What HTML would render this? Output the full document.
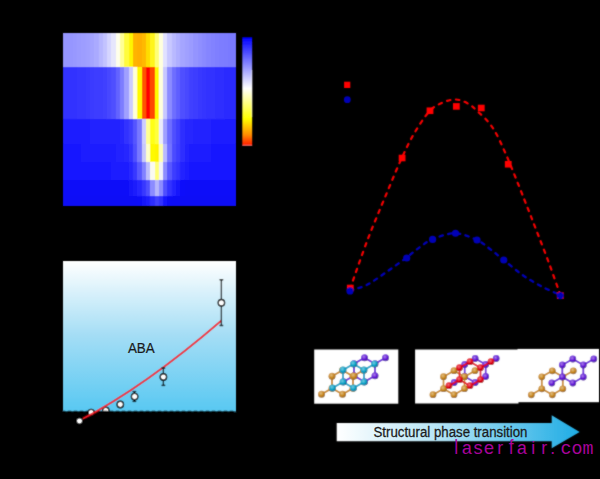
<!DOCTYPE html>
<html><head><meta charset="utf-8"><title>figure</title>
<style>
html,body{margin:0;padding:0;background:#000;width:600px;height:479px;overflow:hidden;}
svg{display:block;font-family:"Liberation Sans", sans-serif;}
</style></head><body>
<svg width="600" height="479" viewBox="0 0 600 479"><defs><filter id="soft" x="-5%" y="-5%" width="110%" height="110%"><feConvolveMatrix order="3" kernelMatrix="1 2 1 2 6 2 1 2 1" divisor="18" edgeMode="none"/></filter><linearGradient id="cb" x1="0" y1="0" x2="0" y2="1"><stop offset="0" stop-color="rgb(0,0,255)"/><stop offset="0.47" stop-color="rgb(255,255,255)"/><stop offset="0.75" stop-color="rgb(255,255,0)"/><stop offset="0.9" stop-color="rgb(255,140,0)"/><stop offset="1" stop-color="rgb(255,20,0)"/></linearGradient><linearGradient id="sky" x1="0" y1="0" x2="0" y2="1"><stop offset="0" stop-color="rgb(255,255,255)"/><stop offset="0.5" stop-color="rgb(163,221,245)"/><stop offset="1" stop-color="rgb(88,200,242)"/></linearGradient><radialGradient id="gt" cx="0.4" cy="0.35" r="0.7"><stop offset="0" stop-color="rgb(119,203,224)"/><stop offset="0.55" stop-color="rgb(8,162,200)"/><stop offset="1" stop-color="rgb(5,113,140)"/></radialGradient><radialGradient id="gp" cx="0.4" cy="0.35" r="0.7"><stop offset="0" stop-color="rgb(169,128,233)"/><stop offset="0.55" stop-color="rgb(100,25,215)"/><stop offset="1" stop-color="rgb(70,17,150)"/></radialGradient><radialGradient id="go" cx="0.4" cy="0.35" r="0.7"><stop offset="0" stop-color="rgb(224,189,131)"/><stop offset="0.55" stop-color="rgb(200,135,30)"/><stop offset="1" stop-color="rgb(140,94,21)"/></radialGradient><radialGradient id="gr" cx="0.4" cy="0.35" r="0.7"><stop offset="0" stop-color="rgb(238,114,125)"/><stop offset="0.55" stop-color="rgb(225,0,20)"/><stop offset="1" stop-color="rgb(157,0,14)"/></radialGradient><linearGradient id="arr" gradientUnits="userSpaceOnUse" x1="336.7" y1="0" x2="580" y2="0"><stop offset="0" stop-color="rgb(255,255,255)"/><stop offset="0.4" stop-color="rgb(185,230,246)"/><stop offset="1" stop-color="rgb(30,172,228)"/></linearGradient><filter id="soft2" x="0" y="0" width="600" height="479" filterUnits="userSpaceOnUse"><feConvolveMatrix order="3" kernelMatrix="1 2 1 2 14 2 1 2 1" divisor="26" edgeMode="none"/></filter></defs><rect width="600" height="479" fill="#000"/><g filter="url(#soft2)"><g shape-rendering="crispEdges"><rect x="62.50" y="32.50" width="6.86" height="35.50" fill="rgb(150,150,255)"/><rect x="68.36" y="32.50" width="5.31" height="35.50" fill="rgb(150,150,255)"/><rect x="72.67" y="32.50" width="5.31" height="35.50" fill="rgb(152,152,255)"/><rect x="76.98" y="32.50" width="5.31" height="35.50" fill="rgb(155,155,255)"/><rect x="81.29" y="32.50" width="5.31" height="35.50" fill="rgb(157,157,255)"/><rect x="85.60" y="32.50" width="5.31" height="35.50" fill="rgb(160,160,255)"/><rect x="89.91" y="32.50" width="5.31" height="35.50" fill="rgb(164,164,255)"/><rect x="94.22" y="32.50" width="5.31" height="35.50" fill="rgb(170,170,255)"/><rect x="98.53" y="32.50" width="5.31" height="35.50" fill="rgb(183,183,255)"/><rect x="102.84" y="32.50" width="5.31" height="35.50" fill="rgb(195,195,255)"/><rect x="107.15" y="32.50" width="5.31" height="35.50" fill="rgb(213,213,255)"/><rect x="111.46" y="32.50" width="5.31" height="35.50" fill="rgb(230,230,252)"/><rect x="115.77" y="32.50" width="5.31" height="35.50" fill="rgb(255,255,235)"/><rect x="120.08" y="32.50" width="5.31" height="35.50" fill="rgb(255,255,150)"/><rect x="124.39" y="32.50" width="5.31" height="35.50" fill="rgb(255,252,60)"/><rect x="128.70" y="32.50" width="5.31" height="35.50" fill="rgb(255,245,0)"/><rect x="133.01" y="32.50" width="5.31" height="35.50" fill="rgb(255,180,0)"/><rect x="137.32" y="32.50" width="5.31" height="35.50" fill="rgb(255,175,0)"/><rect x="141.63" y="32.50" width="5.31" height="35.50" fill="rgb(255,185,0)"/><rect x="145.94" y="32.50" width="5.31" height="35.50" fill="rgb(255,220,0)"/><rect x="150.25" y="32.50" width="5.31" height="35.50" fill="rgb(255,245,30)"/><rect x="154.56" y="32.50" width="5.31" height="35.50" fill="rgb(255,255,120)"/><rect x="158.87" y="32.50" width="5.31" height="35.50" fill="rgb(255,255,220)"/><rect x="163.18" y="32.50" width="5.31" height="35.50" fill="rgb(225,225,255)"/><rect x="167.49" y="32.50" width="5.31" height="35.50" fill="rgb(200,200,255)"/><rect x="171.80" y="32.50" width="5.31" height="35.50" fill="rgb(185,185,255)"/><rect x="176.11" y="32.50" width="5.31" height="35.50" fill="rgb(175,175,255)"/><rect x="180.42" y="32.50" width="5.31" height="35.50" fill="rgb(165,165,255)"/><rect x="184.73" y="32.50" width="5.31" height="35.50" fill="rgb(160,160,255)"/><rect x="189.04" y="32.50" width="5.31" height="35.50" fill="rgb(155,155,255)"/><rect x="193.35" y="32.50" width="5.31" height="35.50" fill="rgb(148,148,255)"/><rect x="197.66" y="32.50" width="5.31" height="35.50" fill="rgb(143,143,255)"/><rect x="201.97" y="32.50" width="5.31" height="35.50" fill="rgb(138,138,255)"/><rect x="206.28" y="32.50" width="5.31" height="35.50" fill="rgb(133,133,255)"/><rect x="210.59" y="32.50" width="5.31" height="35.50" fill="rgb(130,130,255)"/><rect x="214.90" y="32.50" width="5.31" height="35.50" fill="rgb(127,127,255)"/><rect x="219.21" y="32.50" width="5.31" height="35.50" fill="rgb(125,125,255)"/><rect x="223.52" y="32.50" width="5.31" height="35.50" fill="rgb(123,123,255)"/><rect x="227.83" y="32.50" width="5.31" height="35.50" fill="rgb(122,122,255)"/><rect x="232.14" y="32.50" width="3.86" height="35.50" fill="rgb(122,122,255)"/><rect x="62.50" y="67.00" width="6.86" height="53.00" fill="rgb(50,50,255)"/><rect x="68.36" y="67.00" width="5.31" height="53.00" fill="rgb(50,50,255)"/><rect x="72.67" y="67.00" width="5.31" height="53.00" fill="rgb(51,51,255)"/><rect x="76.98" y="67.00" width="5.31" height="53.00" fill="rgb(52,52,255)"/><rect x="81.29" y="67.00" width="5.31" height="53.00" fill="rgb(54,54,255)"/><rect x="85.60" y="67.00" width="5.31" height="53.00" fill="rgb(56,56,255)"/><rect x="89.91" y="67.00" width="5.31" height="53.00" fill="rgb(58,58,255)"/><rect x="94.22" y="67.00" width="5.31" height="53.00" fill="rgb(60,60,255)"/><rect x="98.53" y="67.00" width="5.31" height="53.00" fill="rgb(62,62,255)"/><rect x="102.84" y="67.00" width="5.31" height="53.00" fill="rgb(65,65,255)"/><rect x="107.15" y="67.00" width="5.31" height="53.00" fill="rgb(70,70,255)"/><rect x="111.46" y="67.00" width="5.31" height="53.00" fill="rgb(80,80,255)"/><rect x="115.77" y="67.00" width="5.31" height="53.00" fill="rgb(100,100,255)"/><rect x="120.08" y="67.00" width="5.31" height="53.00" fill="rgb(125,125,255)"/><rect x="124.39" y="67.00" width="5.31" height="53.00" fill="rgb(160,160,255)"/><rect x="128.70" y="67.00" width="5.31" height="53.00" fill="rgb(205,205,255)"/><rect x="133.01" y="67.00" width="5.31" height="53.00" fill="rgb(255,255,215)"/><rect x="137.32" y="67.00" width="5.31" height="53.00" fill="rgb(255,250,0)"/><rect x="141.63" y="67.00" width="5.31" height="53.00" fill="rgb(255,85,0)"/><rect x="145.94" y="67.00" width="5.31" height="53.00" fill="rgb(255,0,0)"/><rect x="150.25" y="67.00" width="5.31" height="53.00" fill="rgb(255,70,0)"/><rect x="154.56" y="67.00" width="5.31" height="53.00" fill="rgb(255,250,0)"/><rect x="158.87" y="67.00" width="5.31" height="53.00" fill="rgb(255,255,220)"/><rect x="163.18" y="67.00" width="5.31" height="53.00" fill="rgb(200,200,255)"/><rect x="167.49" y="67.00" width="5.31" height="53.00" fill="rgb(140,140,255)"/><rect x="171.80" y="67.00" width="5.31" height="53.00" fill="rgb(110,110,255)"/><rect x="176.11" y="67.00" width="5.31" height="53.00" fill="rgb(95,95,255)"/><rect x="180.42" y="67.00" width="5.31" height="53.00" fill="rgb(80,80,255)"/><rect x="184.73" y="67.00" width="5.31" height="53.00" fill="rgb(72,72,255)"/><rect x="189.04" y="67.00" width="5.31" height="53.00" fill="rgb(65,65,255)"/><rect x="193.35" y="67.00" width="5.31" height="53.00" fill="rgb(60,60,255)"/><rect x="197.66" y="67.00" width="5.31" height="53.00" fill="rgb(55,55,255)"/><rect x="201.97" y="67.00" width="5.31" height="53.00" fill="rgb(52,52,255)"/><rect x="206.28" y="67.00" width="5.31" height="53.00" fill="rgb(50,50,255)"/><rect x="210.59" y="67.00" width="5.31" height="53.00" fill="rgb(48,48,255)"/><rect x="214.90" y="67.00" width="5.31" height="53.00" fill="rgb(46,46,255)"/><rect x="219.21" y="67.00" width="5.31" height="53.00" fill="rgb(45,45,255)"/><rect x="223.52" y="67.00" width="5.31" height="53.00" fill="rgb(44,44,255)"/><rect x="227.83" y="67.00" width="5.31" height="53.00" fill="rgb(43,43,255)"/><rect x="232.14" y="67.00" width="3.86" height="53.00" fill="rgb(42,42,255)"/><rect x="62.50" y="119.00" width="6.86" height="26.00" fill="rgb(28,28,255)"/><rect x="68.36" y="119.00" width="5.31" height="26.00" fill="rgb(28,28,255)"/><rect x="72.67" y="119.00" width="5.31" height="26.00" fill="rgb(29,29,255)"/><rect x="76.98" y="119.00" width="5.31" height="26.00" fill="rgb(30,30,255)"/><rect x="81.29" y="119.00" width="5.31" height="26.00" fill="rgb(30,30,255)"/><rect x="85.60" y="119.00" width="5.31" height="26.00" fill="rgb(31,31,255)"/><rect x="89.91" y="119.00" width="5.31" height="26.00" fill="rgb(32,32,255)"/><rect x="94.22" y="119.00" width="5.31" height="26.00" fill="rgb(33,33,255)"/><rect x="98.53" y="119.00" width="5.31" height="26.00" fill="rgb(34,34,255)"/><rect x="102.84" y="119.00" width="5.31" height="26.00" fill="rgb(35,35,255)"/><rect x="107.15" y="119.00" width="5.31" height="26.00" fill="rgb(35,35,255)"/><rect x="111.46" y="119.00" width="5.31" height="26.00" fill="rgb(35,35,255)"/><rect x="115.77" y="119.00" width="5.31" height="26.00" fill="rgb(36,36,255)"/><rect x="120.08" y="119.00" width="5.31" height="26.00" fill="rgb(40,40,255)"/><rect x="124.39" y="119.00" width="5.31" height="26.00" fill="rgb(50,50,255)"/><rect x="128.70" y="119.00" width="5.31" height="26.00" fill="rgb(60,60,255)"/><rect x="133.01" y="119.00" width="5.31" height="26.00" fill="rgb(85,85,255)"/><rect x="137.32" y="119.00" width="5.31" height="26.00" fill="rgb(120,120,255)"/><rect x="141.63" y="119.00" width="5.31" height="26.00" fill="rgb(205,205,255)"/><rect x="145.94" y="119.00" width="5.31" height="26.00" fill="rgb(255,255,145)"/><rect x="150.25" y="119.00" width="5.31" height="26.00" fill="rgb(255,255,20)"/><rect x="154.56" y="119.00" width="5.31" height="26.00" fill="rgb(255,255,60)"/><rect x="158.87" y="119.00" width="5.31" height="26.00" fill="rgb(235,235,250)"/><rect x="163.18" y="119.00" width="5.31" height="26.00" fill="rgb(160,160,255)"/><rect x="167.49" y="119.00" width="5.31" height="26.00" fill="rgb(110,110,255)"/><rect x="171.80" y="119.00" width="5.31" height="26.00" fill="rgb(80,80,255)"/><rect x="176.11" y="119.00" width="5.31" height="26.00" fill="rgb(65,65,255)"/><rect x="180.42" y="119.00" width="5.31" height="26.00" fill="rgb(45,45,255)"/><rect x="184.73" y="119.00" width="5.31" height="26.00" fill="rgb(40,40,255)"/><rect x="189.04" y="119.00" width="5.31" height="26.00" fill="rgb(37,37,255)"/><rect x="193.35" y="119.00" width="5.31" height="26.00" fill="rgb(35,35,255)"/><rect x="197.66" y="119.00" width="5.31" height="26.00" fill="rgb(34,34,255)"/><rect x="201.97" y="119.00" width="5.31" height="26.00" fill="rgb(33,33,255)"/><rect x="206.28" y="119.00" width="5.31" height="26.00" fill="rgb(32,32,255)"/><rect x="210.59" y="119.00" width="5.31" height="26.00" fill="rgb(31,31,255)"/><rect x="214.90" y="119.00" width="5.31" height="26.00" fill="rgb(30,30,255)"/><rect x="219.21" y="119.00" width="5.31" height="26.00" fill="rgb(30,30,255)"/><rect x="223.52" y="119.00" width="5.31" height="26.00" fill="rgb(30,30,255)"/><rect x="227.83" y="119.00" width="5.31" height="26.00" fill="rgb(30,30,255)"/><rect x="232.14" y="119.00" width="3.86" height="26.00" fill="rgb(30,30,255)"/><rect x="62.50" y="144.00" width="6.86" height="19.00" fill="rgb(24,24,255)"/><rect x="68.36" y="144.00" width="5.31" height="19.00" fill="rgb(24,24,255)"/><rect x="72.67" y="144.00" width="5.31" height="19.00" fill="rgb(25,25,255)"/><rect x="76.98" y="144.00" width="5.31" height="19.00" fill="rgb(25,25,255)"/><rect x="81.29" y="144.00" width="5.31" height="19.00" fill="rgb(26,26,255)"/><rect x="85.60" y="144.00" width="5.31" height="19.00" fill="rgb(26,26,255)"/><rect x="89.91" y="144.00" width="5.31" height="19.00" fill="rgb(27,27,255)"/><rect x="94.22" y="144.00" width="5.31" height="19.00" fill="rgb(28,28,255)"/><rect x="98.53" y="144.00" width="5.31" height="19.00" fill="rgb(28,28,255)"/><rect x="102.84" y="144.00" width="5.31" height="19.00" fill="rgb(29,29,255)"/><rect x="107.15" y="144.00" width="5.31" height="19.00" fill="rgb(30,30,255)"/><rect x="111.46" y="144.00" width="5.31" height="19.00" fill="rgb(31,31,255)"/><rect x="115.77" y="144.00" width="5.31" height="19.00" fill="rgb(33,33,255)"/><rect x="120.08" y="144.00" width="5.31" height="19.00" fill="rgb(36,36,255)"/><rect x="124.39" y="144.00" width="5.31" height="19.00" fill="rgb(40,40,255)"/><rect x="128.70" y="144.00" width="5.31" height="19.00" fill="rgb(50,50,255)"/><rect x="133.01" y="144.00" width="5.31" height="19.00" fill="rgb(80,80,255)"/><rect x="137.32" y="144.00" width="5.31" height="19.00" fill="rgb(120,120,255)"/><rect x="141.63" y="144.00" width="5.31" height="19.00" fill="rgb(200,200,250)"/><rect x="145.94" y="144.00" width="5.31" height="19.00" fill="rgb(255,255,200)"/><rect x="150.25" y="144.00" width="5.31" height="19.00" fill="rgb(255,250,0)"/><rect x="154.56" y="144.00" width="5.31" height="19.00" fill="rgb(255,245,0)"/><rect x="158.87" y="144.00" width="5.31" height="19.00" fill="rgb(255,255,175)"/><rect x="163.18" y="144.00" width="5.31" height="19.00" fill="rgb(185,185,255)"/><rect x="167.49" y="144.00" width="5.31" height="19.00" fill="rgb(115,115,255)"/><rect x="171.80" y="144.00" width="5.31" height="19.00" fill="rgb(75,75,255)"/><rect x="176.11" y="144.00" width="5.31" height="19.00" fill="rgb(60,60,255)"/><rect x="180.42" y="144.00" width="5.31" height="19.00" fill="rgb(45,45,255)"/><rect x="184.73" y="144.00" width="5.31" height="19.00" fill="rgb(35,35,255)"/><rect x="189.04" y="144.00" width="5.31" height="19.00" fill="rgb(30,30,255)"/><rect x="193.35" y="144.00" width="5.31" height="19.00" fill="rgb(28,28,255)"/><rect x="197.66" y="144.00" width="5.31" height="19.00" fill="rgb(27,27,255)"/><rect x="201.97" y="144.00" width="5.31" height="19.00" fill="rgb(26,26,255)"/><rect x="206.28" y="144.00" width="5.31" height="19.00" fill="rgb(26,26,255)"/><rect x="210.59" y="144.00" width="5.31" height="19.00" fill="rgb(25,25,255)"/><rect x="214.90" y="144.00" width="5.31" height="19.00" fill="rgb(25,25,255)"/><rect x="219.21" y="144.00" width="5.31" height="19.00" fill="rgb(25,25,255)"/><rect x="223.52" y="144.00" width="5.31" height="19.00" fill="rgb(25,25,255)"/><rect x="227.83" y="144.00" width="5.31" height="19.00" fill="rgb(25,25,255)"/><rect x="232.14" y="144.00" width="3.86" height="19.00" fill="rgb(25,25,255)"/><rect x="62.50" y="162.00" width="6.86" height="18.50" fill="rgb(20,20,255)"/><rect x="68.36" y="162.00" width="5.31" height="18.50" fill="rgb(20,20,255)"/><rect x="72.67" y="162.00" width="5.31" height="18.50" fill="rgb(20,20,255)"/><rect x="76.98" y="162.00" width="5.31" height="18.50" fill="rgb(21,21,255)"/><rect x="81.29" y="162.00" width="5.31" height="18.50" fill="rgb(21,21,255)"/><rect x="85.60" y="162.00" width="5.31" height="18.50" fill="rgb(22,22,255)"/><rect x="89.91" y="162.00" width="5.31" height="18.50" fill="rgb(22,22,255)"/><rect x="94.22" y="162.00" width="5.31" height="18.50" fill="rgb(23,23,255)"/><rect x="98.53" y="162.00" width="5.31" height="18.50" fill="rgb(23,23,255)"/><rect x="102.84" y="162.00" width="5.31" height="18.50" fill="rgb(24,24,255)"/><rect x="107.15" y="162.00" width="5.31" height="18.50" fill="rgb(25,25,255)"/><rect x="111.46" y="162.00" width="5.31" height="18.50" fill="rgb(26,26,255)"/><rect x="115.77" y="162.00" width="5.31" height="18.50" fill="rgb(27,27,255)"/><rect x="120.08" y="162.00" width="5.31" height="18.50" fill="rgb(28,28,255)"/><rect x="124.39" y="162.00" width="5.31" height="18.50" fill="rgb(30,30,255)"/><rect x="128.70" y="162.00" width="5.31" height="18.50" fill="rgb(40,40,255)"/><rect x="133.01" y="162.00" width="5.31" height="18.50" fill="rgb(55,55,255)"/><rect x="137.32" y="162.00" width="5.31" height="18.50" fill="rgb(88,88,255)"/><rect x="141.63" y="162.00" width="5.31" height="18.50" fill="rgb(130,130,255)"/><rect x="145.94" y="162.00" width="5.31" height="18.50" fill="rgb(190,190,252)"/><rect x="150.25" y="162.00" width="5.31" height="18.50" fill="rgb(250,250,240)"/><rect x="154.56" y="162.00" width="5.31" height="18.50" fill="rgb(255,255,120)"/><rect x="158.87" y="162.00" width="5.31" height="18.50" fill="rgb(240,240,250)"/><rect x="163.18" y="162.00" width="5.31" height="18.50" fill="rgb(140,140,255)"/><rect x="167.49" y="162.00" width="5.31" height="18.50" fill="rgb(88,88,255)"/><rect x="171.80" y="162.00" width="5.31" height="18.50" fill="rgb(60,60,255)"/><rect x="176.11" y="162.00" width="5.31" height="18.50" fill="rgb(48,48,255)"/><rect x="180.42" y="162.00" width="5.31" height="18.50" fill="rgb(35,35,255)"/><rect x="184.73" y="162.00" width="5.31" height="18.50" fill="rgb(27,27,255)"/><rect x="189.04" y="162.00" width="5.31" height="18.50" fill="rgb(24,24,255)"/><rect x="193.35" y="162.00" width="5.31" height="18.50" fill="rgb(22,22,255)"/><rect x="197.66" y="162.00" width="5.31" height="18.50" fill="rgb(21,21,255)"/><rect x="201.97" y="162.00" width="5.31" height="18.50" fill="rgb(20,20,255)"/><rect x="206.28" y="162.00" width="5.31" height="18.50" fill="rgb(20,20,255)"/><rect x="210.59" y="162.00" width="5.31" height="18.50" fill="rgb(20,20,255)"/><rect x="214.90" y="162.00" width="5.31" height="18.50" fill="rgb(20,20,255)"/><rect x="219.21" y="162.00" width="5.31" height="18.50" fill="rgb(20,20,255)"/><rect x="223.52" y="162.00" width="5.31" height="18.50" fill="rgb(20,20,255)"/><rect x="227.83" y="162.00" width="5.31" height="18.50" fill="rgb(20,20,255)"/><rect x="232.14" y="162.00" width="3.86" height="18.50" fill="rgb(20,20,255)"/><rect x="62.50" y="179.50" width="6.86" height="17.50" fill="rgb(14,14,248)"/><rect x="68.36" y="179.50" width="5.31" height="17.50" fill="rgb(14,14,248)"/><rect x="72.67" y="179.50" width="5.31" height="17.50" fill="rgb(14,14,248)"/><rect x="76.98" y="179.50" width="5.31" height="17.50" fill="rgb(14,14,248)"/><rect x="81.29" y="179.50" width="5.31" height="17.50" fill="rgb(14,14,248)"/><rect x="85.60" y="179.50" width="5.31" height="17.50" fill="rgb(14,14,248)"/><rect x="89.91" y="179.50" width="5.31" height="17.50" fill="rgb(14,14,248)"/><rect x="94.22" y="179.50" width="5.31" height="17.50" fill="rgb(14,14,248)"/><rect x="98.53" y="179.50" width="5.31" height="17.50" fill="rgb(14,14,248)"/><rect x="102.84" y="179.50" width="5.31" height="17.50" fill="rgb(14,14,248)"/><rect x="107.15" y="179.50" width="5.31" height="17.50" fill="rgb(14,14,248)"/><rect x="111.46" y="179.50" width="5.31" height="17.50" fill="rgb(14,14,248)"/><rect x="115.77" y="179.50" width="5.31" height="17.50" fill="rgb(14,14,248)"/><rect x="120.08" y="179.50" width="5.31" height="17.50" fill="rgb(14,14,248)"/><rect x="124.39" y="179.50" width="5.31" height="17.50" fill="rgb(14,14,248)"/><rect x="128.70" y="179.50" width="5.31" height="17.50" fill="rgb(18,18,250)"/><rect x="133.01" y="179.50" width="5.31" height="17.50" fill="rgb(26,26,252)"/><rect x="137.32" y="179.50" width="5.31" height="17.50" fill="rgb(40,40,255)"/><rect x="141.63" y="179.50" width="5.31" height="17.50" fill="rgb(55,55,255)"/><rect x="145.94" y="179.50" width="5.31" height="17.50" fill="rgb(80,80,255)"/><rect x="150.25" y="179.50" width="5.31" height="17.50" fill="rgb(140,140,255)"/><rect x="154.56" y="179.50" width="5.31" height="17.50" fill="rgb(182,182,252)"/><rect x="158.87" y="179.50" width="5.31" height="17.50" fill="rgb(140,140,255)"/><rect x="163.18" y="179.50" width="5.31" height="17.50" fill="rgb(80,80,255)"/><rect x="167.49" y="179.50" width="5.31" height="17.50" fill="rgb(50,50,255)"/><rect x="171.80" y="179.50" width="5.31" height="17.50" fill="rgb(32,32,255)"/><rect x="176.11" y="179.50" width="5.31" height="17.50" fill="rgb(22,22,252)"/><rect x="180.42" y="179.50" width="5.31" height="17.50" fill="rgb(17,17,250)"/><rect x="184.73" y="179.50" width="5.31" height="17.50" fill="rgb(14,14,248)"/><rect x="189.04" y="179.50" width="5.31" height="17.50" fill="rgb(14,14,248)"/><rect x="193.35" y="179.50" width="5.31" height="17.50" fill="rgb(14,14,248)"/><rect x="197.66" y="179.50" width="5.31" height="17.50" fill="rgb(14,14,248)"/><rect x="201.97" y="179.50" width="5.31" height="17.50" fill="rgb(14,14,248)"/><rect x="206.28" y="179.50" width="5.31" height="17.50" fill="rgb(14,14,248)"/><rect x="210.59" y="179.50" width="5.31" height="17.50" fill="rgb(14,14,248)"/><rect x="214.90" y="179.50" width="5.31" height="17.50" fill="rgb(14,14,248)"/><rect x="219.21" y="179.50" width="5.31" height="17.50" fill="rgb(14,14,248)"/><rect x="223.52" y="179.50" width="5.31" height="17.50" fill="rgb(14,14,248)"/><rect x="227.83" y="179.50" width="5.31" height="17.50" fill="rgb(14,14,248)"/><rect x="232.14" y="179.50" width="3.86" height="17.50" fill="rgb(14,14,248)"/><rect x="62.50" y="196.00" width="6.86" height="9.50" fill="rgb(12,12,246)"/><rect x="68.36" y="196.00" width="5.31" height="9.50" fill="rgb(12,12,246)"/><rect x="72.67" y="196.00" width="5.31" height="9.50" fill="rgb(12,12,246)"/><rect x="76.98" y="196.00" width="5.31" height="9.50" fill="rgb(12,12,246)"/><rect x="81.29" y="196.00" width="5.31" height="9.50" fill="rgb(12,12,246)"/><rect x="85.60" y="196.00" width="5.31" height="9.50" fill="rgb(12,12,246)"/><rect x="89.91" y="196.00" width="5.31" height="9.50" fill="rgb(12,12,246)"/><rect x="94.22" y="196.00" width="5.31" height="9.50" fill="rgb(12,12,246)"/><rect x="98.53" y="196.00" width="5.31" height="9.50" fill="rgb(12,12,246)"/><rect x="102.84" y="196.00" width="5.31" height="9.50" fill="rgb(12,12,246)"/><rect x="107.15" y="196.00" width="5.31" height="9.50" fill="rgb(12,12,246)"/><rect x="111.46" y="196.00" width="5.31" height="9.50" fill="rgb(12,12,246)"/><rect x="115.77" y="196.00" width="5.31" height="9.50" fill="rgb(12,12,246)"/><rect x="120.08" y="196.00" width="5.31" height="9.50" fill="rgb(12,12,246)"/><rect x="124.39" y="196.00" width="5.31" height="9.50" fill="rgb(12,12,246)"/><rect x="128.70" y="196.00" width="5.31" height="9.50" fill="rgb(12,12,246)"/><rect x="133.01" y="196.00" width="5.31" height="9.50" fill="rgb(12,12,246)"/><rect x="137.32" y="196.00" width="5.31" height="9.50" fill="rgb(14,14,248)"/><rect x="141.63" y="196.00" width="5.31" height="9.50" fill="rgb(18,18,250)"/><rect x="145.94" y="196.00" width="5.31" height="9.50" fill="rgb(28,28,255)"/><rect x="150.25" y="196.00" width="5.31" height="9.50" fill="rgb(45,45,255)"/><rect x="154.56" y="196.00" width="5.31" height="9.50" fill="rgb(65,65,255)"/><rect x="158.87" y="196.00" width="5.31" height="9.50" fill="rgb(50,50,255)"/><rect x="163.18" y="196.00" width="5.31" height="9.50" fill="rgb(25,25,255)"/><rect x="167.49" y="196.00" width="5.31" height="9.50" fill="rgb(15,15,248)"/><rect x="171.80" y="196.00" width="5.31" height="9.50" fill="rgb(12,12,246)"/><rect x="176.11" y="196.00" width="5.31" height="9.50" fill="rgb(12,12,246)"/><rect x="180.42" y="196.00" width="5.31" height="9.50" fill="rgb(12,12,246)"/><rect x="184.73" y="196.00" width="5.31" height="9.50" fill="rgb(12,12,246)"/><rect x="189.04" y="196.00" width="5.31" height="9.50" fill="rgb(12,12,246)"/><rect x="193.35" y="196.00" width="5.31" height="9.50" fill="rgb(12,12,246)"/><rect x="197.66" y="196.00" width="5.31" height="9.50" fill="rgb(12,12,246)"/><rect x="201.97" y="196.00" width="5.31" height="9.50" fill="rgb(12,12,246)"/><rect x="206.28" y="196.00" width="5.31" height="9.50" fill="rgb(12,12,246)"/><rect x="210.59" y="196.00" width="5.31" height="9.50" fill="rgb(12,12,246)"/><rect x="214.90" y="196.00" width="5.31" height="9.50" fill="rgb(12,12,246)"/><rect x="219.21" y="196.00" width="5.31" height="9.50" fill="rgb(12,12,246)"/><rect x="223.52" y="196.00" width="5.31" height="9.50" fill="rgb(12,12,246)"/><rect x="227.83" y="196.00" width="5.31" height="9.50" fill="rgb(12,12,246)"/><rect x="232.14" y="196.00" width="3.86" height="9.50" fill="rgb(12,12,246)"/></g><rect x="242.3" y="37.3" width="9.9" height="108.4" fill="url(#cb)"/><rect x="251.4" y="70" width="0.9" height="47" fill="rgba(255,255,255,0.55)"/><rect x="242.3" y="144.8" width="9.9" height="0.9" fill="rgba(255,170,170,0.7)"/><rect x="63.0" y="261.0" width="173" height="150.5" fill="url(#sky)"/><circle cx="105.8" cy="410.4" r="3.2" fill="#fff" stroke="#000" stroke-width="1.4"/><rect x="62" y="412.6" width="174.5" height="6" fill="#000"/><line x1="62" y1="412.3" x2="236" y2="412.3" stroke="#000" stroke-width="3" stroke-dasharray="3 3" stroke-linecap="round"/><circle cx="91.1" cy="412.4" r="3.0" fill="#fff" stroke="#000" stroke-width="1.4"/><path d="M79.3,420.7 Q145.4,386.4 221.5,320.5" fill="none" stroke="rgb(238,22,32)" stroke-width="1.7"/><line x1="134.4" y1="391.6" x2="134.4" y2="401.4" stroke="#000" stroke-width="1.3"/><line x1="132.6" y1="391.6" x2="136.2" y2="391.6" stroke="#000" stroke-width="1.4"/><line x1="132.6" y1="401.4" x2="136.2" y2="401.4" stroke="#000" stroke-width="1.4"/><line x1="163.4" y1="368.0" x2="163.4" y2="385.4" stroke="#000" stroke-width="1.3"/><line x1="161.6" y1="368.0" x2="165.2" y2="368.0" stroke="#000" stroke-width="1.4"/><line x1="161.6" y1="385.4" x2="165.2" y2="385.4" stroke="#000" stroke-width="1.4"/><line x1="221.4" y1="279.7" x2="221.4" y2="325.5" stroke="#000" stroke-width="1.3"/><line x1="219.6" y1="279.7" x2="223.2" y2="279.7" stroke="#000" stroke-width="1.4"/><line x1="219.6" y1="325.5" x2="223.2" y2="325.5" stroke="#000" stroke-width="1.4"/><circle cx="79.5" cy="421.0" r="3.2" fill="#fff" stroke="#000" stroke-width="1.4"/><circle cx="120.3" cy="404.5" r="3.2" fill="#fff" stroke="#000" stroke-width="1.4"/><circle cx="134.6" cy="396.6" r="3.2" fill="#fff" stroke="#000" stroke-width="1.4"/><circle cx="163.4" cy="377.0" r="3.2" fill="#fff" stroke="#000" stroke-width="1.4"/><circle cx="221.4" cy="302.7" r="3.2" fill="#fff" stroke="#000" stroke-width="1.4"/><path d="M350.00,289.00 C352.92,280.83 361.33,256.08 367.50,240.00 C373.67,223.92 381.25,206.25 387.00,192.50 C392.75,178.75 397.33,167.58 402.00,157.50 C406.67,147.42 410.33,139.79 415.00,132.00 C419.67,124.21 425.33,115.67 430.00,110.75 C434.67,105.83 438.75,104.38 443.00,102.50 C447.25,100.62 451.50,99.42 455.50,99.50 C459.50,99.58 463.33,101.04 467.00,103.00 C470.67,104.96 473.25,107.17 477.50,111.25 C481.75,115.33 487.71,120.21 492.50,127.50 C497.29,134.79 500.92,142.92 506.25,155.00 C511.58,167.08 519.50,187.50 524.50,200.00 C529.50,212.50 532.21,219.58 536.25,230.00 C540.29,240.42 544.79,251.83 548.75,262.50 C552.71,273.17 558.12,288.75 560.00,294.00" fill="none" stroke="rgb(245,0,0)" stroke-width="2.2" stroke-linecap="round" stroke-dasharray="3.4 5.6"/><path d="M350.00,290.75 C352.92,289.71 361.25,287.75 367.50,284.50 C373.75,281.25 381.04,275.71 387.50,271.25 C393.96,266.79 400.83,261.79 406.25,257.75 C411.67,253.71 415.62,250.08 420.00,247.00 C424.38,243.92 426.67,241.54 432.50,239.25 C438.33,236.96 447.58,233.12 455.00,233.25 C462.42,233.38 471.17,237.38 477.00,240.00 C482.83,242.62 485.54,245.67 490.00,249.00 C494.46,252.33 498.33,255.67 503.75,260.00 C509.17,264.33 516.25,270.62 522.50,275.00 C528.75,279.38 535.00,282.92 541.25,286.25 C547.50,289.58 556.88,293.54 560.00,295.00" fill="none" stroke="rgb(6,6,180)" stroke-width="2.3" stroke-linecap="round" stroke-dasharray="3.4 5.4"/><rect x="346.90" y="284.70" width="6.8" height="6.6" fill="rgb(255,0,0)"/><rect x="398.70" y="154.70" width="6.8" height="6.6" fill="rgb(255,0,0)"/><rect x="426.60" y="107.45" width="6.8" height="6.6" fill="rgb(255,0,0)"/><rect x="452.95" y="103.10" width="6.8" height="6.6" fill="rgb(255,0,0)"/><rect x="477.85" y="104.70" width="6.8" height="6.6" fill="rgb(255,0,0)"/><rect x="504.85" y="160.95" width="6.8" height="6.6" fill="rgb(255,0,0)"/><rect x="556.90" y="292.30" width="6.8" height="6.6" fill="rgb(255,0,0)"/><circle cx="350.00" cy="290.90" r="3.6" fill="rgb(6,6,182)"/><circle cx="406.70" cy="258.00" r="3.6" fill="rgb(6,6,182)"/><circle cx="432.60" cy="239.40" r="3.6" fill="rgb(6,6,182)"/><circle cx="455.50" cy="233.25" r="3.6" fill="rgb(6,6,182)"/><circle cx="477.00" cy="240.00" r="3.6" fill="rgb(6,6,182)"/><circle cx="503.75" cy="260.00" r="3.6" fill="rgb(6,6,182)"/><circle cx="560.30" cy="295.60" r="3.6" fill="rgb(6,6,182)"/><rect x="344.1" y="81.7" width="6.2" height="6.3" fill="rgb(255,0,0)"/><circle cx="347.3" cy="99.7" r="3.4" fill="rgb(6,6,182)"/><rect x="314.2" y="349.5" width="84.1" height="54.2" fill="#fff"/><rect x="415.1" y="349.5" width="103.4" height="54" fill="#fff"/><rect x="517.5" y="348.9" width="81.5" height="53.3" fill="#fff"/><line x1="364.5" y1="357.8" x2="375.0" y2="363.8" stroke="rgb(100,25,215)" stroke-width="1.9"/><line x1="375.0" y1="363.8" x2="375.0" y2="375.8" stroke="rgb(100,25,215)" stroke-width="1.9"/><line x1="375.0" y1="375.8" x2="364.5" y2="381.8" stroke="rgb(100,25,215)" stroke-width="1.9"/><line x1="364.5" y1="381.8" x2="354.0" y2="375.8" stroke="rgb(100,25,215)" stroke-width="1.9"/><line x1="354.0" y1="375.8" x2="354.0" y2="363.8" stroke="rgb(100,25,215)" stroke-width="1.9"/><line x1="354.0" y1="363.8" x2="364.5" y2="357.8" stroke="rgb(100,25,215)" stroke-width="1.9"/><line x1="375.0" y1="363.8" x2="385.5" y2="357.8" stroke="rgb(100,25,215)" stroke-width="1.9"/><line x1="354.0" y1="375.8" x2="343.5" y2="381.8" stroke="rgb(100,25,215)" stroke-width="1.9"/><circle cx="364.5" cy="357.8" r="3.5" fill="url(#gp)"/><circle cx="375.0" cy="363.8" r="3.5" fill="url(#gp)"/><circle cx="375.0" cy="375.8" r="3.5" fill="url(#gp)"/><circle cx="364.5" cy="381.8" r="3.5" fill="url(#gp)"/><circle cx="354.0" cy="375.8" r="3.5" fill="url(#gp)"/><circle cx="354.0" cy="363.8" r="3.5" fill="url(#gp)"/><circle cx="385.5" cy="357.8" r="3.5" fill="url(#gp)"/><circle cx="343.5" cy="381.8" r="3.5" fill="url(#gp)"/><line x1="342.5" y1="370.2" x2="353.0" y2="376.2" stroke="rgb(200,135,30)" stroke-width="1.9"/><line x1="353.0" y1="376.2" x2="353.0" y2="388.2" stroke="rgb(200,135,30)" stroke-width="1.9"/><line x1="353.0" y1="388.2" x2="342.5" y2="394.2" stroke="rgb(200,135,30)" stroke-width="1.9"/><line x1="342.5" y1="394.2" x2="332.0" y2="388.2" stroke="rgb(200,135,30)" stroke-width="1.9"/><line x1="332.0" y1="388.2" x2="332.0" y2="376.2" stroke="rgb(200,135,30)" stroke-width="1.9"/><line x1="332.0" y1="376.2" x2="342.5" y2="370.2" stroke="rgb(200,135,30)" stroke-width="1.9"/><line x1="353.0" y1="376.2" x2="363.5" y2="370.2" stroke="rgb(200,135,30)" stroke-width="1.9"/><line x1="332.0" y1="388.2" x2="321.5" y2="394.2" stroke="rgb(200,135,30)" stroke-width="1.9"/><circle cx="342.5" cy="370.2" r="3.5" fill="url(#go)"/><circle cx="353.0" cy="376.2" r="3.5" fill="url(#go)"/><circle cx="353.0" cy="388.2" r="3.5" fill="url(#go)"/><circle cx="342.5" cy="394.2" r="3.5" fill="url(#go)"/><circle cx="332.0" cy="388.2" r="3.5" fill="url(#go)"/><circle cx="332.0" cy="376.2" r="3.5" fill="url(#go)"/><circle cx="363.5" cy="370.2" r="3.5" fill="url(#go)"/><circle cx="321.5" cy="394.2" r="3.5" fill="url(#go)"/><line x1="353.5" y1="364.0" x2="364.0" y2="370.0" stroke="rgb(8,162,200)" stroke-width="1.9"/><line x1="364.0" y1="370.0" x2="364.0" y2="382.0" stroke="rgb(8,162,200)" stroke-width="1.9"/><line x1="364.0" y1="382.0" x2="353.5" y2="388.0" stroke="rgb(8,162,200)" stroke-width="1.9"/><line x1="353.5" y1="388.0" x2="343.0" y2="382.0" stroke="rgb(8,162,200)" stroke-width="1.9"/><line x1="343.0" y1="382.0" x2="343.0" y2="370.0" stroke="rgb(8,162,200)" stroke-width="1.9"/><line x1="343.0" y1="370.0" x2="353.5" y2="364.0" stroke="rgb(8,162,200)" stroke-width="1.9"/><line x1="364.0" y1="370.0" x2="374.5" y2="364.0" stroke="rgb(8,162,200)" stroke-width="1.9"/><line x1="343.0" y1="382.0" x2="332.5" y2="388.0" stroke="rgb(8,162,200)" stroke-width="1.9"/><circle cx="353.5" cy="364.0" r="3.5" fill="url(#gt)"/><circle cx="364.0" cy="370.0" r="3.5" fill="url(#gt)"/><circle cx="364.0" cy="382.0" r="3.5" fill="url(#gt)"/><circle cx="353.5" cy="388.0" r="3.5" fill="url(#gt)"/><circle cx="343.0" cy="382.0" r="3.5" fill="url(#gt)"/><circle cx="343.0" cy="370.0" r="3.5" fill="url(#gt)"/><circle cx="374.5" cy="364.0" r="3.5" fill="url(#gt)"/><circle cx="332.5" cy="388.0" r="3.5" fill="url(#gt)"/><circle cx="353.8" cy="376.0" r="3.6" fill="url(#go)"/><line x1="475.2" y1="358.5" x2="485.7" y2="364.5" stroke="rgb(100,25,215)" stroke-width="1.7"/><line x1="485.7" y1="364.5" x2="485.7" y2="376.5" stroke="rgb(100,25,215)" stroke-width="1.7"/><line x1="485.7" y1="376.5" x2="475.2" y2="382.5" stroke="rgb(100,25,215)" stroke-width="1.7"/><line x1="475.2" y1="382.5" x2="464.7" y2="376.5" stroke="rgb(100,25,215)" stroke-width="1.7"/><line x1="464.7" y1="376.5" x2="464.7" y2="364.5" stroke="rgb(100,25,215)" stroke-width="1.7"/><line x1="464.7" y1="364.5" x2="475.2" y2="358.5" stroke="rgb(100,25,215)" stroke-width="1.7"/><line x1="485.7" y1="364.5" x2="496.2" y2="358.5" stroke="rgb(100,25,215)" stroke-width="1.7"/><line x1="464.7" y1="376.5" x2="454.2" y2="382.5" stroke="rgb(100,25,215)" stroke-width="1.7"/><circle cx="475.2" cy="358.5" r="3.4" fill="url(#gp)"/><circle cx="485.7" cy="364.5" r="3.4" fill="url(#gp)"/><circle cx="485.7" cy="376.5" r="3.4" fill="url(#gp)"/><circle cx="475.2" cy="382.5" r="3.4" fill="url(#gp)"/><circle cx="464.7" cy="376.5" r="3.4" fill="url(#gp)"/><circle cx="464.7" cy="364.5" r="3.4" fill="url(#gp)"/><circle cx="496.2" cy="358.5" r="3.4" fill="url(#gp)"/><circle cx="454.2" cy="382.5" r="3.4" fill="url(#gp)"/><line x1="454.0" y1="370.7" x2="464.5" y2="376.7" stroke="rgb(200,135,30)" stroke-width="1.7"/><line x1="464.5" y1="376.7" x2="464.5" y2="388.7" stroke="rgb(200,135,30)" stroke-width="1.7"/><line x1="464.5" y1="388.7" x2="454.0" y2="394.7" stroke="rgb(200,135,30)" stroke-width="1.7"/><line x1="454.0" y1="394.7" x2="443.5" y2="388.7" stroke="rgb(200,135,30)" stroke-width="1.7"/><line x1="443.5" y1="388.7" x2="443.5" y2="376.7" stroke="rgb(200,135,30)" stroke-width="1.7"/><line x1="443.5" y1="376.7" x2="454.0" y2="370.7" stroke="rgb(200,135,30)" stroke-width="1.7"/><line x1="464.5" y1="376.7" x2="475.0" y2="370.7" stroke="rgb(200,135,30)" stroke-width="1.7"/><line x1="443.5" y1="388.7" x2="433.0" y2="394.7" stroke="rgb(200,135,30)" stroke-width="1.7"/><circle cx="454.0" cy="370.7" r="3.4" fill="url(#go)"/><circle cx="464.5" cy="376.7" r="3.4" fill="url(#go)"/><circle cx="464.5" cy="388.7" r="3.4" fill="url(#go)"/><circle cx="454.0" cy="394.7" r="3.4" fill="url(#go)"/><circle cx="443.5" cy="388.7" r="3.4" fill="url(#go)"/><circle cx="443.5" cy="376.7" r="3.4" fill="url(#go)"/><circle cx="475.0" cy="370.7" r="3.4" fill="url(#go)"/><circle cx="433.0" cy="394.7" r="3.4" fill="url(#go)"/><line x1="470.0" y1="361.7" x2="480.5" y2="367.7" stroke="rgb(225,0,20)" stroke-width="1.7"/><line x1="480.5" y1="367.7" x2="480.5" y2="379.7" stroke="rgb(225,0,20)" stroke-width="1.7"/><line x1="480.5" y1="379.7" x2="470.0" y2="385.7" stroke="rgb(225,0,20)" stroke-width="1.7"/><line x1="470.0" y1="385.7" x2="459.5" y2="379.7" stroke="rgb(225,0,20)" stroke-width="1.7"/><line x1="459.5" y1="379.7" x2="459.5" y2="367.7" stroke="rgb(225,0,20)" stroke-width="1.7"/><line x1="459.5" y1="367.7" x2="470.0" y2="361.7" stroke="rgb(225,0,20)" stroke-width="1.7"/><line x1="480.5" y1="367.7" x2="491.0" y2="361.7" stroke="rgb(225,0,20)" stroke-width="1.7"/><line x1="459.5" y1="379.7" x2="449.0" y2="385.7" stroke="rgb(225,0,20)" stroke-width="1.7"/><circle cx="470.0" cy="361.7" r="3.4" fill="url(#gr)"/><circle cx="480.5" cy="367.7" r="3.4" fill="url(#gr)"/><circle cx="480.5" cy="379.7" r="3.4" fill="url(#gr)"/><circle cx="470.0" cy="385.7" r="3.4" fill="url(#gr)"/><circle cx="459.5" cy="379.7" r="3.4" fill="url(#gr)"/><circle cx="459.5" cy="367.7" r="3.4" fill="url(#gr)"/><circle cx="491.0" cy="361.7" r="3.4" fill="url(#gr)"/><circle cx="449.0" cy="385.7" r="3.4" fill="url(#gr)"/><line x1="552.3" y1="370.8" x2="562.8" y2="376.8" stroke="rgb(200,135,30)" stroke-width="1.8"/><line x1="562.8" y1="376.8" x2="562.8" y2="388.8" stroke="rgb(200,135,30)" stroke-width="1.8"/><line x1="562.8" y1="388.8" x2="552.3" y2="394.8" stroke="rgb(200,135,30)" stroke-width="1.8"/><line x1="552.3" y1="394.8" x2="541.8" y2="388.8" stroke="rgb(200,135,30)" stroke-width="1.8"/><line x1="541.8" y1="388.8" x2="541.8" y2="376.8" stroke="rgb(200,135,30)" stroke-width="1.8"/><line x1="541.8" y1="376.8" x2="552.3" y2="370.8" stroke="rgb(200,135,30)" stroke-width="1.8"/><line x1="562.8" y1="376.8" x2="573.3" y2="370.8" stroke="rgb(200,135,30)" stroke-width="1.8"/><line x1="541.8" y1="388.8" x2="531.3" y2="394.8" stroke="rgb(200,135,30)" stroke-width="1.8"/><circle cx="552.3" cy="370.8" r="3.4" fill="url(#go)"/><circle cx="562.8" cy="376.8" r="3.4" fill="url(#go)"/><circle cx="562.8" cy="388.8" r="3.4" fill="url(#go)"/><circle cx="552.3" cy="394.8" r="3.4" fill="url(#go)"/><circle cx="541.8" cy="388.8" r="3.4" fill="url(#go)"/><circle cx="541.8" cy="376.8" r="3.4" fill="url(#go)"/><circle cx="573.3" cy="370.8" r="3.4" fill="url(#go)"/><circle cx="531.3" cy="394.8" r="3.4" fill="url(#go)"/><line x1="572.8" y1="359.0" x2="583.3" y2="365.0" stroke="rgb(100,25,215)" stroke-width="1.8"/><line x1="583.3" y1="365.0" x2="583.3" y2="377.0" stroke="rgb(100,25,215)" stroke-width="1.8"/><line x1="583.3" y1="377.0" x2="572.8" y2="383.0" stroke="rgb(100,25,215)" stroke-width="1.8"/><line x1="572.8" y1="383.0" x2="562.3" y2="377.0" stroke="rgb(100,25,215)" stroke-width="1.8"/><line x1="562.3" y1="377.0" x2="562.3" y2="365.0" stroke="rgb(100,25,215)" stroke-width="1.8"/><line x1="562.3" y1="365.0" x2="572.8" y2="359.0" stroke="rgb(100,25,215)" stroke-width="1.8"/><line x1="583.3" y1="365.0" x2="593.8" y2="359.0" stroke="rgb(100,25,215)" stroke-width="1.8"/><line x1="562.3" y1="377.0" x2="551.8" y2="383.0" stroke="rgb(100,25,215)" stroke-width="1.8"/><circle cx="572.8" cy="359.0" r="3.4" fill="url(#gp)"/><circle cx="583.3" cy="365.0" r="3.4" fill="url(#gp)"/><circle cx="583.3" cy="377.0" r="3.4" fill="url(#gp)"/><circle cx="572.8" cy="383.0" r="3.4" fill="url(#gp)"/><circle cx="562.3" cy="377.0" r="3.4" fill="url(#gp)"/><circle cx="562.3" cy="365.0" r="3.4" fill="url(#gp)"/><circle cx="593.8" cy="359.0" r="3.4" fill="url(#gp)"/><circle cx="551.8" cy="383.0" r="3.4" fill="url(#gp)"/><path d="M336.7,423 L551.7,423 L551.7,415.3 L579.7,432 L551.7,448.3 L551.7,441.2 L336.7,441.2 Z" fill="url(#arr)"/></g><text transform="translate(127.9,352.8) scale(0.918,1)" x="0" y="0" font-family="Liberation Sans, sans-serif" font-size="14.6" fill="#1a1a1a" stroke="#1a1a1a" stroke-width="0.2">ABA</text><text transform="translate(373.5,436.9) scale(0.958,1)" x="0" y="0" font-family="Liberation Sans, sans-serif" font-size="13.85" fill="#1a1a1a" stroke="#1a1a1a" stroke-width="0.25">Structural phase transition</text><text transform="translate(456.10,453.8) scale(0.92,1.10)" x="0" y="0" text-anchor="middle" font-family="Liberation Sans, sans-serif" font-size="19.2" fill="rgb(168,4,155)">l</text><text x="467.10" y="453.8" text-anchor="middle" font-family="Liberation Mono, monospace" font-size="18.3" fill="rgb(168,4,155)">a</text><text x="478.10" y="453.8" text-anchor="middle" font-family="Liberation Mono, monospace" font-size="18.3" fill="rgb(168,4,155)">s</text><text x="489.10" y="453.8" text-anchor="middle" font-family="Liberation Mono, monospace" font-size="18.3" fill="rgb(168,4,155)">e</text><text transform="translate(500.10,453.8) scale(0.92,1.00)" x="0" y="0" text-anchor="middle" font-family="Liberation Sans, sans-serif" font-size="19.2" fill="rgb(168,4,155)">r</text><text transform="translate(511.10,453.8) scale(0.92,1.10)" x="0" y="0" text-anchor="middle" font-family="Liberation Sans, sans-serif" font-size="19.2" fill="rgb(168,4,155)">f</text><text x="522.10" y="453.8" text-anchor="middle" font-family="Liberation Mono, monospace" font-size="18.3" fill="rgb(168,4,155)">a</text><text transform="translate(533.10,453.8) scale(0.92,1.00)" x="0" y="0" text-anchor="middle" font-family="Liberation Sans, sans-serif" font-size="19.2" fill="rgb(168,4,155)">i</text><text transform="translate(544.10,453.8) scale(0.92,1.00)" x="0" y="0" text-anchor="middle" font-family="Liberation Sans, sans-serif" font-size="19.2" fill="rgb(168,4,155)">r</text><text transform="translate(552.60,453.8) scale(0.92,1.00)" x="0" y="0" text-anchor="middle" font-family="Liberation Sans, sans-serif" font-size="19.2" fill="rgb(168,4,155)">.</text><text x="566.10" y="453.8" text-anchor="middle" font-family="Liberation Mono, monospace" font-size="18.3" fill="rgb(168,4,155)">c</text><text x="577.10" y="453.8" text-anchor="middle" font-family="Liberation Mono, monospace" font-size="18.3" fill="rgb(168,4,155)">o</text><text x="588.10" y="453.8" text-anchor="middle" font-family="Liberation Mono, monospace" font-size="18.3" fill="rgb(168,4,155)">m</text></svg>
</body></html>
